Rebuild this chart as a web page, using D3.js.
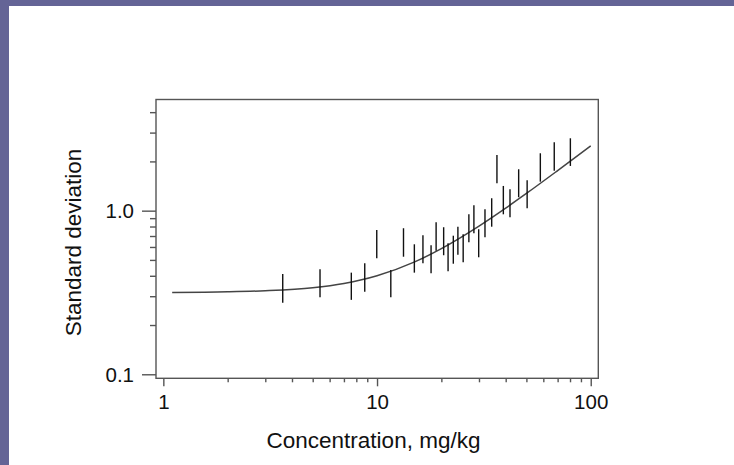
<!DOCTYPE html>
<html>
<head>
<meta charset="utf-8">
<script src="https://cdn.jsdelivr.net/npm/d3@7"></script>
<style>
  html, body { margin: 0; padding: 0; background: #fff; }
  svg { display: block; }
  text { font-family: "Liberation Sans", Arial, sans-serif; fill: #111; }
</style>
</head>
<body>
<svg id="chart" width="734" height="465"></svg>
<script>
// Concentration (mg/kg) of each measured range bar
const barConc = [3.62, 5.41, 7.58, 8.76, 9.97, 11.6, 13.3, 14.95, 16.4, 17.9, 18.9, 20.5, 21.5, 22.75, 23.9, 25.3, 26.9, 28.4, 29.9, 32.0, 34.4, 36.4, 39.0, 41.9, 46.0, 50.4, 58.1, 67.5, 80.3];
// Lower and upper ends of each bar (standard deviation)
const barLow  = [0.274, 0.296, 0.285, 0.320, 0.512, 0.296, 0.523, 0.418, 0.477, 0.414, 0.569, 0.534, 0.426, 0.474, 0.538, 0.484, 0.641, 0.728, 0.519, 0.688, 0.798, 1.47, 0.950, 0.911, 1.208, 1.034, 1.504, 1.756, 1.876];
const barHigh = [0.410, 0.438, 0.418, 0.477, 0.762, 0.434, 0.781, 0.623, 0.707, 0.614, 0.849, 0.792, 0.632, 0.703, 0.798, 0.717, 0.950, 1.079, 0.770, 1.020, 1.191, 2.19, 1.416, 1.351, 1.791, 1.534, 2.243, 2.619, 2.77];
// Fitted curve points
const curveConc = [1.1, 2, 3, 5, 7, 10, 15, 20, 30, 40, 50, 70, 100];
const curveSd   = [0.316, 0.319, 0.324, 0.338, 0.359, 0.400, 0.486, 0.586, 0.805, 1.037, 1.274, 1.758, 2.49];
// Axis ticks
const xTicks = [1, 2, 3, 4, 5, 6, 7, 8, 9, 10, 20, 30, 40, 50, 60, 70, 80, 90, 100];
const xMajor = [1, 10, 100];
const xLabels = ["1", "10", "100"];
const yTicks = [0.1, 0.2, 0.3, 0.4, 0.5, 0.6, 0.7, 0.8, 0.9, 1, 2, 3, 4];
const yMajor = [0.1, 1];
const yLabels = ["0.1", "1.0"];
const xTitle = "Concentration, mg/kg";
const yTitle = "Standard deviation";

const svg = d3.select("#chart");
const W = 734, H = 465;
const frame = { left: 156, right: 598.3, top: 99.5, bottom: 378.3 };

// page border
svg.append("rect").attr("x", 0).attr("y", 0).attr("width", W).attr("height", 6).attr("fill", "#646496");
svg.append("rect").attr("x", 0).attr("y", 0).attr("width", 9).attr("height", H).attr("fill", "#646496");

const x = d3.scaleLog().domain([0.924, 108.5]).range([frame.left, frame.right]);
const y = d3.scaleLog().domain([0.0945, 4.78]).range([frame.bottom, frame.top]);

// x axis
const gx = svg.append("g").attr("transform", `translate(0,${frame.bottom})`)
  .call(d3.axisBottom(x).tickValues(xTicks).tickSize(8).tickFormat(d => {
    const i = xMajor.indexOf(d); return i >= 0 ? xLabels[i] : "";
  }));
gx.select(".domain").remove();
gx.selectAll(".tick line").attr("stroke", "#555").attr("stroke-width", 1.4)
  .attr("y2", d => xMajor.includes(d) ? 8 : 4);
gx.selectAll(".tick text").attr("y", 30.5).attr("dy", null)
  .style("font-size", "20.5px").attr("fill", "#111").attr("font-family", "Liberation Sans, Arial, sans-serif");

// y axis
const gy = svg.append("g").attr("transform", `translate(${frame.left},0)`)
  .call(d3.axisLeft(y).tickValues(yTicks).tickSize(6).tickFormat(d => {
    const i = yMajor.indexOf(d); return i >= 0 ? yLabels[i] : "";
  }));
gy.select(".domain").remove();
gy.selectAll(".tick line").attr("stroke", "#555").attr("stroke-width", 1.4)
  .attr("x2", d => yMajor.includes(d) ? -14 : -6);
gy.selectAll(".tick text").attr("x", -22).attr("dy", "0.35em")
  .style("font-size", "20.5px").attr("fill", "#111").attr("font-family", "Liberation Sans, Arial, sans-serif");

// frame
svg.append("rect")
  .attr("x", frame.left).attr("y", frame.top)
  .attr("width", frame.right - frame.left).attr("height", frame.bottom - frame.top)
  .attr("fill", "none").attr("stroke", "#555").attr("stroke-width", 1.4);

// fitted curve
const curveData = curveConc.map((c, i) => ({ c, s: curveSd[i] }));
svg.append("path")
  .datum(curveData)
  .attr("fill", "none").attr("stroke", "#444").attr("stroke-width", 1.5)
  .attr("d", d3.line().x(d => x(d.c)).y(d => y(d.s)).curve(d3.curveMonotoneX));

// bars
const bars = barConc.map((c, i) => ({ c, lo: barLow[i], hi: barHigh[i] }));
svg.append("g").selectAll("line").data(bars).join("line")
  .attr("x1", d => x(d.c)).attr("x2", d => x(d.c))
  .attr("y1", d => y(d.lo)).attr("y2", d => y(d.hi))
  .attr("stroke", "#111").attr("stroke-width", 1.4);

// titles
svg.append("text").attr("x", 373.5).attr("y", 448).attr("text-anchor", "middle")
  .style("font-size", "22.5px").text(xTitle);
svg.append("text").attr("transform", `translate(80.5,242.5) rotate(-90)`).attr("text-anchor", "middle")
  .style("font-size", "22.5px").text(yTitle);
</script>
</body>
</html>
